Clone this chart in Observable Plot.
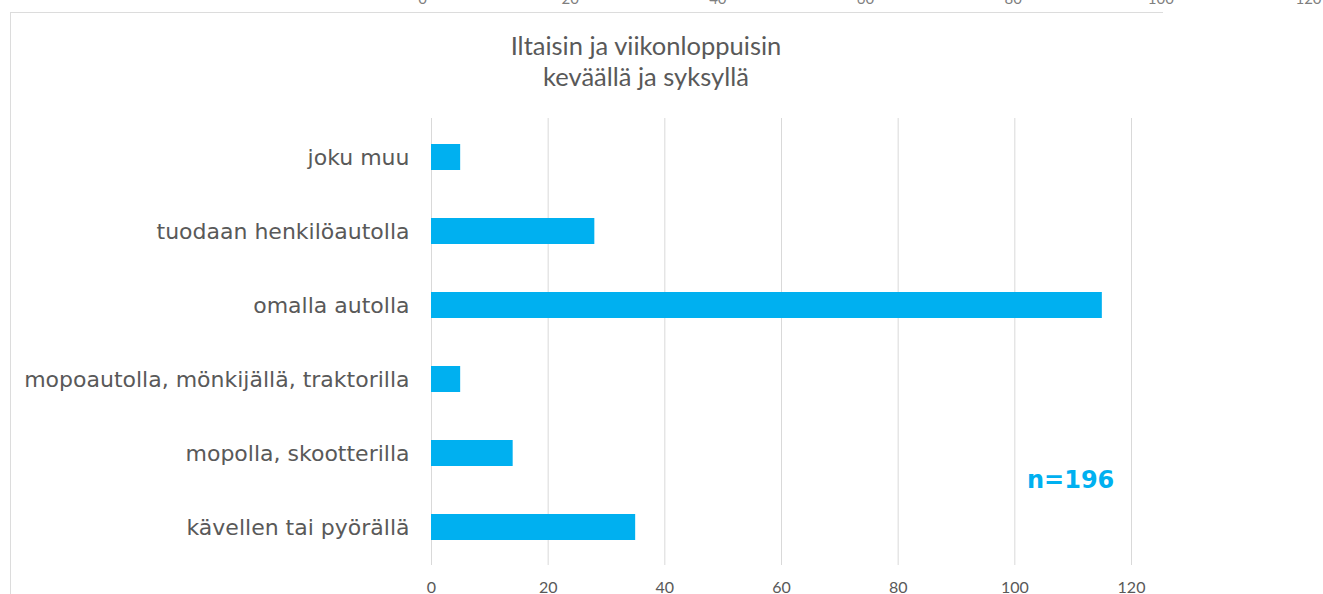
<!DOCTYPE html>
<html>
<head>
<meta charset="utf-8">
<script src="https://cdn.jsdelivr.net/npm/d3@7"></script>
<script src="https://cdn.jsdelivr.net/npm/@observablehq/plot@0.6"></script>
<style>
  html, body { margin: 0; padding: 0; background: #fff; }
  #wrap { position: relative; width: 1323px; height: 594px; overflow: hidden; background: #fff; }
  .abs { position: absolute; }
  #title { left: 296px; width: 700px; top: 30px; text-align: center; font-family: Lato, sans-serif; font-size: 25.5px; line-height: 31px; color: #595959; }
  #note { left: 1027px; top: 466px; font-family: "DejaVu Sans", sans-serif; font-weight: bold; font-size: 24px; color: #00B0F0; }
  #frameTop { left: 10px; top: 12px; width: 1153px; height: 0; border-top: 1px solid #dcdcdc; }
  #frameLeft { left: 10px; top: 12px; width: 0; height: 590px; border-left: 1px solid #dcdcdc; }
</style>
</head>
<body>
<div id="wrap">
  <div id="frameTop" class="abs"></div>
  <div id="frameLeft" class="abs"></div>
  <div id="topAxis" class="abs" style="left:0;top:-27px"></div>
  <div id="main" class="abs" style="left:0;top:0"></div>
  <div id="title" class="abs">Iltaisin ja viikonloppuisin<br>keväällä ja syksyllä</div>
  <div id="note" class="abs">n=196</div>
</div>
<script>
const categories = [
  "joku muu",
  "tuodaan henkilöautolla",
  "omalla autolla",
  "mopoautolla, mönkijällä, traktorilla",
  "mopolla, skootterilla",
  "kävellen tai pyörällä"
];
const values = [5, 28, 115, 5, 14, 35];
const xTicks = [0, 20, 40, 60, 80, 100, 120];

const data = categories.map((c, i) => ({category: c, value: values[i]}));

const main = Plot.plot({
  width: 1323,
  height: 594,
  marginLeft: 431,
  marginRight: 192,
  marginTop: 118,
  marginBottom: 29,
  style: {background: "transparent"},
  x: {domain: [0, 120], axis: null},
  y: {domain: categories, paddingInner: 0.65, paddingOuter: 0.325, axis: null},
  marks: [
    Plot.gridX(xTicks, {stroke: "#d9d9d9", strokeOpacity: 1, strokeWidth: 1}),
    Plot.barX(data, {x: "value", y: "category", fill: "#00B0F0"}),
    Plot.axisX(xTicks, {anchor: "bottom", tickSize: 0, tickPadding: 16, label: null, fontSize: 16, fontFamily: "Lato, sans-serif", color: "#595959"}),
    Plot.axisY({anchor: "left", tickSize: 0, tickPadding: 22, label: null, fontSize: 22, fontFamily: "DejaVu Sans, sans-serif", color: "#595959"})
  ]
});
document.getElementById("main").appendChild(main);

const topAxis = Plot.plot({
  width: 1323,
  height: 40,
  marginLeft: 422,
  marginRight: 15,
  marginTop: 0,
  marginBottom: 20,
  style: {background: "transparent", overflow: "visible"},
  x: {domain: [0, 120], axis: null},
  marks: [
    Plot.axisX(xTicks, {anchor: "bottom", tickSize: 0, tickPadding: 0, label: null, fontSize: 15, fontFamily: "Lato, sans-serif", color: "#7f7f7f"})
  ]
});
document.getElementById("topAxis").appendChild(topAxis);
</script>
</body>
</html>
